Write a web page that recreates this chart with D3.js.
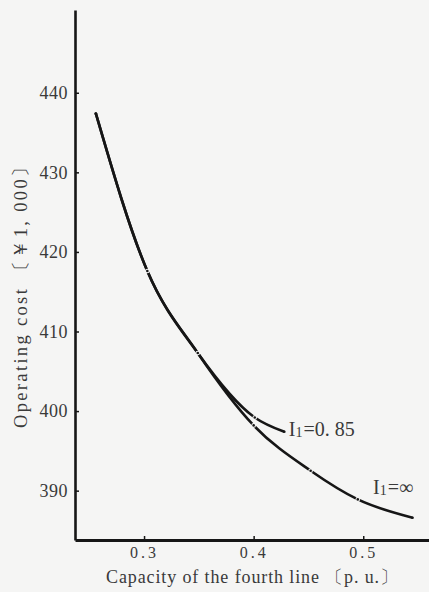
<!DOCTYPE html>
<html>
<head>
<meta charset="utf-8">
<script src="https://cdn.jsdelivr.net/npm/d3@7"></script>
<style>
  html, body { margin: 0; padding: 0; background: #f5f5f4; }
  svg { display: block; }
  text { font-family: "Liberation Serif", "DejaVu Serif", serif; fill: #3a3a3a; }
</style>
</head>
<body>
<svg id="chart" width="429" height="592"></svg>
<script>
// ---- data ----
const capacityInf = [0.256, 0.303, 0.349, 0.400, 0.452, 0.495, 0.545];
const costInf     = [437.4, 417.6, 407.3, 398.2, 392.5, 388.9, 386.6];
const capacity085 = [0.256, 0.303, 0.349, 0.401, 0.428];
const cost085     = [437.4, 417.6, 407.3, 399.2, 397.4];
const xTicks = [0.3, 0.4, 0.5];
const yTicks = [390, 400, 410, 420, 430, 440];
const seriesNames = ["\u221e", "0. 85"];
const labelPos = [[0.509, 389.6], [0.432, 396.9]];
const xTitle = "Capacity of the fourth line \u3014p. u.\u3015";
const yTitle = "Operating cost \u3014\uffe51, 000\u3015";

// ---- layout ----
const svg = d3.select("#chart");
const x = d3.scaleLinear().domain([0.237, 0.560]).range([75, 429]);
const y = d3.scaleLinear().domain([383.8, 450.4]).range([540, 10]);
const bg = "#f5f5f4", ink = "#161616";

// axes
const gx = svg.append("g").attr("transform", `translate(0,${y.range()[0]})`)
  .call(d3.axisBottom(x).tickValues(xTicks).tickSize(-4).tickSizeOuter(0)
        .tickPadding(7).tickFormat(d => d.toFixed(1)));
gx.select(".domain").attr("stroke", ink).attr("stroke-width", 3);
gx.selectAll(".tick line").attr("stroke", ink).attr("stroke-width", 1.5);
gx.selectAll(".tick text").attr("font-size", 16).attr("letter-spacing", 3)
  .attr("font-family", "Liberation Serif").attr("fill", "#444").attr("dy", "0.71em");

const gy = svg.append("g").attr("transform", `translate(${x.range()[0]},0)`)
  .call(d3.axisLeft(y).tickValues(yTicks).tickSize(-4).tickSizeOuter(0)
        .tickPadding(7).tickFormat(d3.format("d")));
gy.select(".domain").attr("stroke", ink).attr("stroke-width", 2.6);
gy.selectAll(".tick line").attr("stroke", ink).attr("stroke-width", 1.5);
gy.selectAll(".tick text").attr("font-size", 18).attr("letter-spacing", 0.5)
  .attr("font-family", "Liberation Serif").attr("fill", "#444");

// axis titles
svg.append("text").attr("x", 252).attr("y", 583).attr("text-anchor", "middle")
  .attr("font-size", 18).attr("textLength", 292).attr("lengthAdjust", "spacing")
  .text(xTitle);
svg.append("text").attr("transform", "translate(27,293) rotate(-90)")
  .attr("text-anchor", "middle").attr("font-size", 18.5)
  .attr("textLength", 270).attr("lengthAdjust", "spacing")
  .text(yTitle);

// curves: smooth path, small gap + dot at each computed point
function drawSeries(xs, ys) {
  const data = xs.map((v, i) => [v, ys[i]]);
  const g = svg.append("g");
  g.append("path").datum(data)
    .attr("d", d3.line().x(d => x(d[0])).y(d => y(d[1])).curve(d3.curveMonotoneX))
    .attr("fill", "none").attr("stroke", ink).attr("stroke-width", 2.6);
  const inner = data.slice(1, -1);
  g.selectAll("circle.gap").data(inner).join("circle").attr("class", "gap")
    .attr("cx", d => x(d[0])).attr("cy", d => y(d[1])).attr("r", 2.3)
    .attr("fill", bg);
  g.selectAll("circle.dot").data(data).join("circle").attr("class", "dot")
    .attr("cx", d => x(d[0])).attr("cy", d => y(d[1])).attr("r", 1.3)
    .attr("fill", ink);
}
drawSeries(capacity085, cost085);
drawSeries(capacityInf, costInf);

// series labels
seriesNames.forEach((name, i) => {
  const t = svg.append("text")
    .attr("x", x(labelPos[i][0])).attr("y", y(labelPos[i][1]))
    .attr("font-size", 20).attr("fill", "#333");
  t.append("tspan").text("I");
  t.append("tspan").attr("font-size", 14).attr("dy", 1).text("1");
  t.append("tspan").attr("dy", -1).attr("dx", 1).text("=" + name);
});
</script>
</body>
</html>
